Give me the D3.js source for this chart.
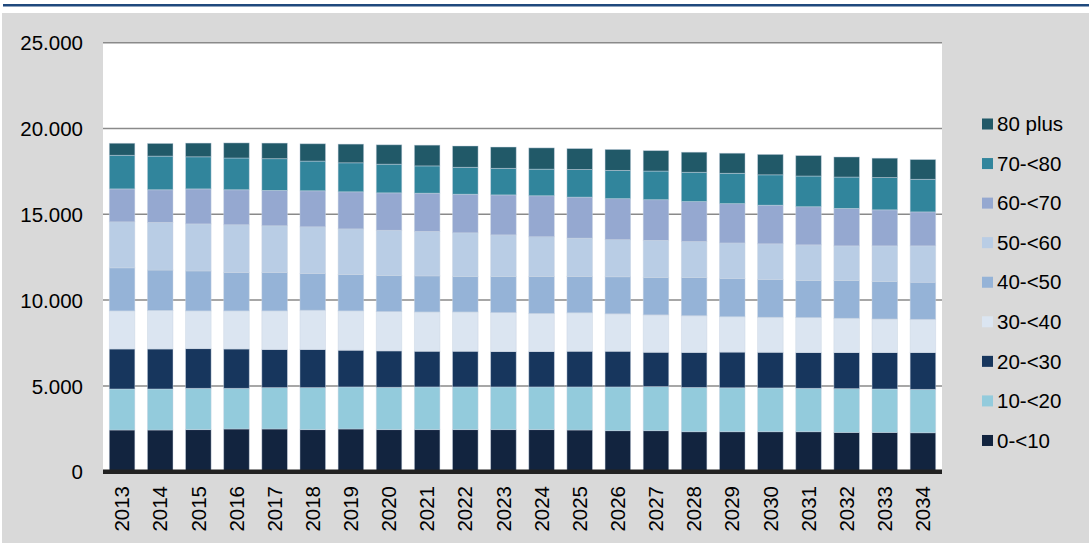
<!DOCTYPE html>
<html>
<head>
<meta charset="utf-8">
<script src="https://cdn.jsdelivr.net/npm/d3@7/dist/d3.min.js"></script>
<style>
  html, body { margin: 0; padding: 0; background: #ffffff; }
  svg { display: block; font-family: "Liberation Sans", Arial, sans-serif; }
</style>
</head>
<body>
<svg id="chart" width="1089" height="543"></svg>
<script>
// Population by age group, 2013–2034
const years = ["2013","2014","2015","2016","2017","2018","2019","2020","2021","2022","2023",
               "2024","2025","2026","2027","2028","2029","2030","2031","2032","2033","2034"];

const ageGroups = ["0-<10","10-<20","20-<30","30-<40","40-<50","50-<60","60-<70","70-<80","80 plus"];

const age0_10   = [2430,2430,2450,2490,2490,2450,2490,2450,2450,2450,2450,2450,2430,2390,2390,2330,2330,2330,2330,2290,2290,2270];
const age10_20  = [2390,2390,2410,2370,2410,2450,2450,2470,2490,2490,2490,2490,2510,2550,2570,2580,2560,2550,2530,2550,2530,2530];
const age20_30  = [2330,2330,2310,2290,2220,2220,2140,2120,2080,2080,2060,2060,2080,2080,2000,2040,2080,2080,2080,2100,2120,2140];
const age30_40  = [2220,2250,2200,2220,2250,2290,2290,2290,2290,2290,2270,2220,2240,2180,2180,2140,2060,2040,2040,2000,1960,1940];
const age40_50  = [2510,2350,2330,2240,2240,2140,2120,2100,2100,2060,2100,2160,2120,2160,2180,2220,2220,2200,2160,2200,2180,2160];
const age50_60  = [2680,2780,2740,2780,2720,2720,2660,2640,2590,2550,2430,2310,2230,2160,2160,2100,2080,2080,2080,2020,2080,2120];
const age60_70  = [1920,1900,2040,2040,2060,2100,2160,2180,2230,2250,2330,2390,2390,2390,2370,2330,2290,2250,2220,2180,2100,1980];
const age70_80  = [1960,1960,1870,1850,1850,1730,1690,1670,1590,1570,1550,1550,1610,1650,1670,1710,1770,1770,1790,1830,1880,1900];
const age80plus = [ 700, 740, 800, 880, 910,1010,1090,1130,1210,1240,1240,1240,1220,1220,1190,1170,1170,1190,1190,1170,1130,1150];

const seriesValues = [age0_10, age10_20, age20_30, age30_40, age40_50, age50_60, age60_70, age70_80, age80plus];
const seriesColors = ["#12243f","#93cbdc","#17365d","#dbe5f1","#95b3d7","#b9cde5","#95a8d0","#31859c","#215968"];

const yTicks = [0, 5000, 10000, 15000, 20000, 25000];

// Build row objects for the stack layout
const rows = years.map((y, i) => {
  const r = { year: y };
  ageGroups.forEach((g, k) => { r[g] = seriesValues[k][i]; });
  return r;
});

const svg = d3.select("#chart");
const W = 1089, H = 543;

// Header rule and grey panel
svg.append("rect").attr("x", 3).attr("y", 4).attr("width", W - 3).attr("height", 2.5).attr("fill", "#1f497d");
svg.append("rect").attr("x", 2).attr("y", 13).attr("width", W - 2).attr("height", H - 13).attr("fill", "#d9d9d9");

const plot = { left: 103, right: 942, top: 42.7, bottom: 471.7 };

svg.append("rect")
  .attr("x", plot.left).attr("y", plot.top)
  .attr("width", plot.right - plot.left).attr("height", plot.bottom - plot.top)
  .attr("fill", "#ffffff");

const x = d3.scaleBand()
  .domain(years)
  .range([plot.left, plot.right])
  .paddingInner(0.33)
  .paddingOuter(0.165);

const y = d3.scaleLinear()
  .domain([0, 25000])
  .range([plot.bottom, plot.top]);

const locale = d3.formatLocale({ decimal: ",", thousands: ".", grouping: [3], currency: ["", ""] });
const fmt = locale.format(",d");

// Horizontal gridlines
svg.append("g")
  .selectAll("line")
  .data(yTicks.filter(t => t > 0))
  .join("line")
  .attr("x1", plot.left).attr("x2", plot.right)
  .attr("y1", d => y(d)).attr("y2", d => y(d))
  .attr("stroke", "#8a8a8a").attr("stroke-width", 1.5);

// Stacked bars
const stack = d3.stack().keys(ageGroups);
const layers = stack(rows);

svg.append("g")
  .selectAll("g")
  .data(layers)
  .join("g")
  .attr("fill", (d, i) => seriesColors[i])
  .selectAll("rect")
  .data(d => d)
  .join("rect")
  .attr("x", d => x(d.data.year))
  .attr("width", x.bandwidth())
  .attr("y", d => y(d[1]))
  .attr("height", d => y(d[0]) - y(d[1]))
  .attr("stroke", "rgba(200,212,226,0.55)")
  .attr("stroke-width", 0.8);

// Category axis line
svg.append("line")
  .attr("x1", plot.left).attr("x2", plot.right)
  .attr("y1", y(0)).attr("y2", y(0))
  .attr("stroke", "#222222").attr("stroke-width", 4.5);

// Y tick labels
const yAxis = d3.axisLeft(y).tickValues(yTicks).tickFormat(fmt).tickSize(0).tickPadding(0);
const gy = svg.append("g").attr("transform", `translate(83,0)`).call(yAxis);
gy.select(".domain").remove();
gy.selectAll("text")
  .attr("font-family", "'Liberation Sans', Arial, sans-serif")
  .attr("font-size", "20.5px")
  .attr("fill", "#000000")
  .attr("dy", "0.35em");

// X tick labels, rotated
svg.append("g")
  .selectAll("text")
  .data(years)
  .join("text")
  .attr("transform", d => `translate(${x(d) + x.bandwidth() / 2},486) rotate(-90)`)
  .attr("text-anchor", "end")
  .attr("dy", "0.35em")
  .attr("font-size", "20.5px")
  .attr("fill", "#000000")
  .text(d => d);

// Legend (top entry is the topmost stack layer)
const legendOrder = ageGroups.map((g, i) => ({ name: g, color: seriesColors[i] })).reverse();
const legend = svg.append("g")
  .selectAll("g")
  .data(legendOrder)
  .join("g")
  .attr("transform", (d, i) => `translate(982,${124 + i * 39.56})`);

legend.append("rect")
  .attr("x", 0).attr("y", -5.5)
  .attr("width", 11).attr("height", 11)
  .attr("fill", d => d.color);

legend.append("text")
  .attr("x", 15).attr("y", 0)
  .attr("dy", "0.35em")
  .attr("font-size", "20.5px")
  .attr("fill", "#000000")
  .text(d => d.name);
</script>
</body>
</html>
